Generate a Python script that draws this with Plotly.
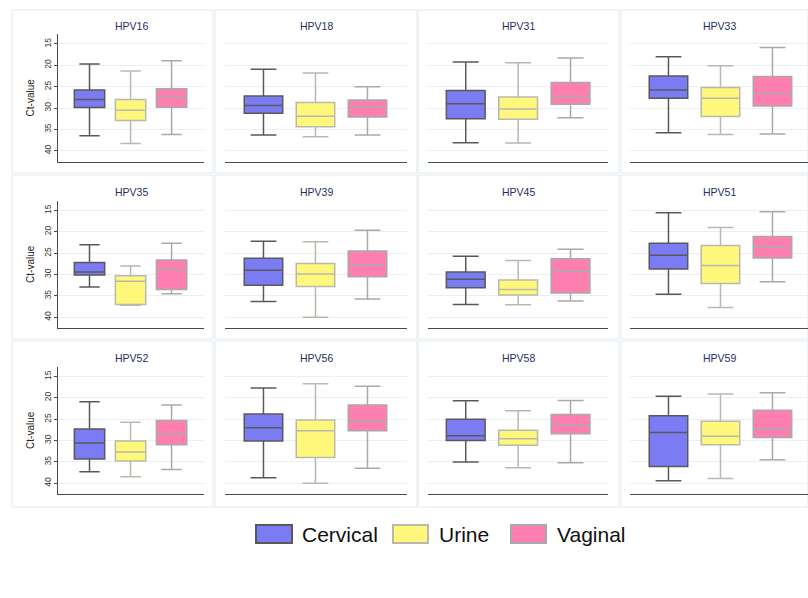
import plotly.graph_objects as go

# HPV genotypes, one panel each (4 columns x 3 rows)
genotypes = ["HPV16", "HPV18", "HPV31", "HPV33",
             "HPV35", "HPV39", "HPV45", "HPV51",
             "HPV52", "HPV56", "HPV58", "HPV59"]
samples = ["Cervical", "Urine", "Vaginal"]

# Ct-value box statistics per genotype: lower whisker, Q1, median, Q3, upper whisker
cervical_lo  = [19.7, 20.9, 19.2, 18.0, 23.0, 22.2, 25.7, 15.5, 20.9, 17.7, 20.7, 19.6]
cervical_q1  = [25.8, 27.2, 25.9, 22.5, 27.2, 26.2, 29.4, 22.7, 27.3, 23.8, 25.0, 24.2]
cervical_med = [28.0, 29.4, 29.0, 25.8, 29.4, 29.0, 31.1, 25.5, 30.6, 27.0, 28.9, 28.1]
cervical_q3  = [29.9, 31.2, 32.5, 27.7, 30.1, 32.5, 33.1, 28.7, 34.3, 30.1, 30.0, 36.1]
cervical_hi  = [36.5, 36.3, 38.1, 35.8, 32.9, 36.3, 37.0, 34.6, 37.3, 38.7, 35.0, 39.4]

urine_lo  = [21.3, 21.8, 19.4, 20.1, 28.0, 22.3, 26.7, 19.0, 25.7, 16.7, 23.0, 19.1]
urine_q1  = [28.0, 28.7, 27.4, 25.2, 30.3, 27.4, 31.3, 23.2, 30.1, 25.2, 27.6, 25.5]
urine_med = [30.5, 31.9, 30.2, 27.7, 31.6, 29.9, 33.5, 27.9, 32.7, 27.7, 29.6, 29.0]
urine_q3  = [32.9, 34.4, 32.6, 32.0, 37.0, 32.8, 34.8, 32.1, 34.8, 34.0, 31.1, 31.0]
urine_hi  = [38.3, 36.7, 38.2, 36.2, 37.2, 40.0, 37.1, 37.7, 38.5, 40.0, 36.4, 38.9]

vaginal_lo  = [18.9, 25.0, 18.3, 15.8, 22.7, 19.6, 24.1, 15.3, 21.7, 17.3, 20.6, 18.8]
vaginal_q1  = [25.5, 28.1, 24.0, 22.6, 26.6, 24.5, 26.3, 21.1, 25.3, 21.7, 23.9, 22.9]
vaginal_med = [27.3, 29.7, 27.3, 26.6, 28.8, 27.8, 29.1, 23.6, 28.4, 25.4, 26.3, 27.3]
vaginal_q3  = [29.8, 32.1, 29.1, 29.5, 33.5, 30.5, 34.3, 26.1, 31.0, 27.7, 28.4, 29.3]
vaginal_hi  = [36.2, 36.3, 32.3, 36.1, 34.5, 35.7, 36.2, 31.7, 36.8, 36.5, 35.2, 34.5]

y_ticks = [15, 20, 25, 30, 35, 40]

stats = {
    "Cervical": (cervical_lo, cervical_q1, cervical_med, cervical_q3, cervical_hi),
    "Urine": (urine_lo, urine_q1, urine_med, urine_q3, urine_hi),
    "Vaginal": (vaginal_lo, vaginal_q1, vaginal_med, vaginal_q3, vaginal_hi),
}
fill_colors = {"Cervical": "#7b7bf4", "Urine": "#fff87c", "Vaginal": "#ff7fb1"}
line_colors = {"Cervical": "#595959", "Urine": "#b9b9ae", "Vaginal": "#a9a9a9"}

W, H = 808, 598
FONT = "Liberation Sans, Arial, sans-serif"

# pixel geometry of the panel grid
col_dom = [(58, 204), (225, 407), (428, 608), (630, 808)]
col_rng = [(-0.768, 2.79), (-0.74, 2.76), (-0.72, 2.715), (-0.74, 2.683)]
row_top = [34, 200.5, 366.5]
plot_h = 127.5
panel_cols = [(12, 213), (215, 417), (418, 619), (621, 808)]
panel_rows = [(10, 173), (175, 339), (341, 507)]


def px(x):
    return x / W


def py(y):
    return 1 - y / H


fig = go.Figure()
layout = dict(
    width=W, height=H,
    margin=dict(l=0, r=0, t=0, b=0),
    paper_bgcolor="white", plot_bgcolor="white",
    showlegend=False,
    font=dict(family=FONT, color="#333333"),
)
shapes = []
annotations = []

for k, name in enumerate(genotypes):
    r, c = divmod(k, 4)
    ax = "" if k == 0 else str(k + 1)
    x0, x1 = col_dom[c]
    top = row_top[r]
    layout["xaxis" + ax] = dict(
        domain=[px(x0), px(x1)], range=list(col_rng[c]),
        anchor="y" + ax, showgrid=False, zeroline=False,
        showticklabels=False, ticks="",
        showline=True, linecolor="#4a4a4a", linewidth=1.3,
        fixedrange=True,
    )
    yax = dict(
        domain=[py(top + plot_h), py(top)], range=[42.52, 12.66],
        anchor="x" + ax, zeroline=False,
        tickvals=y_ticks, showgrid=True, gridcolor="#e9eff3", gridwidth=1,
        fixedrange=True,
    )
    if c == 0:
        yax.update(
            showline=True, linecolor="#4a4a4a", linewidth=1,
            ticks="outside", ticklen=3, tickcolor="#4a4a4a",
            tickangle=-90, tickfont=dict(size=8.5, color="#333333"),
            title=dict(text="Ct-value", font=dict(size=10, color="#222222"),
                       standoff=6),
        )
    else:
        yax.update(showline=False, showticklabels=False, ticks="")
    layout["yaxis" + ax] = yax

    for i, s in enumerate(samples):
        lo, q1, med, q3, hi = stats[s]
        fig.add_trace(go.Box(
            x=[i], lowerfence=[lo[k]], q1=[q1[k]], median=[med[k]],
            q3=[q3[k]], upperfence=[hi[k]],
            name=s, width=0.74, whiskerwidth=0.67,
            fillcolor=fill_colors[s],
            line=dict(color=line_colors[s], width=1.5),
            boxpoints=False,
            xaxis="x" + ax, yaxis="y" + ax,
        ))

    annotations.append(dict(
        text=name, x=px((x0 + x1) / 2), y=py(top - 8.5),
        xref="paper", yref="paper", xanchor="center", yanchor="middle",
        showarrow=False, font=dict(size=10.5, color="#26305e", family=FONT),
    ))

# light frame around each panel
for (ry0, ry1) in panel_rows:
    for (cx0, cx1) in panel_cols:
        shapes.append(dict(
            type="rect", xref="paper", yref="paper",
            x0=px(cx0), x1=px(cx1), y0=py(ry1), y1=py(ry0),
            line=dict(color="#e3eaef", width=1), fillcolor="rgba(0,0,0,0)",
            layer="below",
        ))

# legend: swatches and labels below the grid
legend_x = [(256, 292, 300), (393, 428, 437), (511, 546, 555)]
for s, (sx0, sx1, tx) in zip(samples, legend_x):
    shapes.append(dict(
        type="rect", xref="paper", yref="paper",
        x0=px(sx0), x1=px(sx1), y0=py(543), y1=py(525),
        line=dict(color=line_colors[s], width=2), fillcolor=fill_colors[s],
    ))
    annotations.append(dict(
        text=s, x=px(tx), y=py(534.5), xref="paper", yref="paper",
        xanchor="left", yanchor="middle", showarrow=False,
        font=dict(size=21, color="#111111", family=FONT),
    ))

layout["shapes"] = shapes
layout["annotations"] = annotations
fig.update_layout(**layout)
fig.write_html("out.html")
